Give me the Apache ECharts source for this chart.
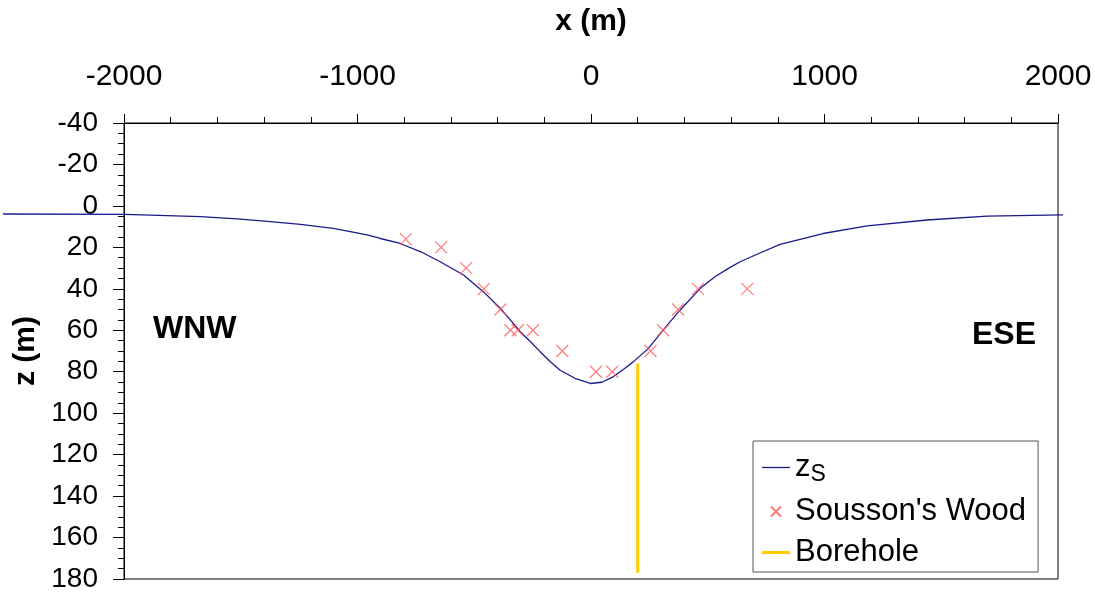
<!DOCTYPE html>
<html>
<head>
<meta charset="utf-8">
<script src="https://cdn.jsdelivr.net/npm/echarts@6/dist/echarts.min.js"></script>
<style>html,body{margin:0;padding:0;background:#fff}#c{width:1095px;height:593px}</style>
</head>
<body>
<div id="c"></div>
<script>
// Surface profile z_s
const curveX = [-2520,-2000,-1816,-1675,-1516,-1375,-1246,-1105,-1032,-960,-904,-818,-730,-647,-547,-461,-390,-347,-304,-260,-218,-175,-133,-70,-4,45,94,140,180,245,308,381,467,530,595,638,720,809,993,1182,1439,1696,2021];
const curveZ = [3.8,4.0,4.6,5.1,6.2,7.5,8.8,10.7,12.3,13.9,15.6,18.0,22.0,26.8,33.2,41.3,49.2,54.8,60.5,65.3,70.2,74.9,79.0,82.9,85.4,84.8,82.2,78.4,75.0,68.5,59.7,50.0,39.6,34.0,29.5,26.8,22.7,18.4,13.2,9.5,6.7,4.8,4.2];
// Sousson's Wood observations
const woodX = [-793,-642,-535,-459,-388,-345,-313,-249,-123,21,91,255,309,373,458,669];
const woodZ = [16,20,30,40,50,60,60,60,70,80,80,70,60,50,40,40];
// Borehole
const boreX = [200,200];
const boreZ = [76,177];

const FONT = 'Liberation Sans, Arial, sans-serif';
const zip = (a,b) => a.map((v,i)=>[v,b[i]]);
const chart = echarts.init(document.getElementById('c'), null, {renderer:'canvas'});
const crossPath = 'path://M0,0L10,10M10,0L0,10';
chart.setOption({
  animation:false,
  backgroundColor:'#fff',
  textStyle:{fontFamily:FONT},
  grid:[
    {left:124,right:37,top:123,bottom:13,show:true,borderColor:'#000',borderWidth:1,backgroundColor:'transparent'},
    {left:3,right:32,top:123,bottom:13,show:false}
  ],
  xAxis:[{
    type:'value',position:'top',min:-2000,max:2000,interval:1000,gridIndex:0,
    name:'x (m)',nameLocation:'middle',nameGap:86,
    nameTextStyle:{fontFamily:FONT,fontSize:30,fontWeight:'bold',color:'#000'},
    axisLine:{show:true,onZero:false,lineStyle:{color:'#000',width:1}},
    axisTick:{show:true,inside:false,length:9,lineStyle:{color:'#000'}},
    minorTick:{show:true,splitNumber:5,length:6,lineStyle:{color:'#000'}},
    axisLabel:{fontFamily:FONT,fontSize:30,color:'#000',margin:31,formatter:function(v){return String(v);}},
    splitLine:{show:false}
  },{
    type:'value',gridIndex:1,min:-2520,max:2021,show:false,splitLine:{show:false}
  }],
  yAxis:[{
    type:'value',inverse:true,min:-40,max:180,interval:20,gridIndex:0,
    name:'z (m)',nameLocation:'middle',nameGap:82,nameRotate:90,
    nameTextStyle:{fontFamily:FONT,fontSize:30,fontWeight:'bold',color:'#000'},
    axisLine:{show:true,onZero:false,lineStyle:{color:'#000',width:1}},
    axisTick:{show:true,inside:false,length:11,lineStyle:{color:'#000'}},
    minorTick:{show:true,splitNumber:4,length:6,lineStyle:{color:'#000'}},
    axisLabel:{fontFamily:FONT,fontSize:28,color:'#000',margin:26,formatter:function(v){return String(v);}},
    splitLine:{show:false}
  },{
    type:'value',gridIndex:1,inverse:true,min:-40,max:180,show:false,splitLine:{show:false}
  }],
  legend:{
    orient:'vertical',left:753,top:441,
    padding:[8,12,4,9],itemGap:10,itemWidth:28,itemHeight:10,
    borderColor:'#555',borderWidth:1,backgroundColor:'#fff',
    textStyle:{fontFamily:FONT,fontSize:31,color:'#000',lineHeight:30,
      rich:{a:{fontFamily:FONT,fontSize:31,color:'#000',lineHeight:30},
            b:{fontFamily:FONT,fontSize:23,color:'#000',lineHeight:30,padding:[14,0,0,0]}}},
    formatter:function(n){return n==='zs' ? '{a|z}{b|S}' : n;},
    data:[
      {name:'zs',icon:'path://M0,0L28,0L28,1.3L0,1.3Z'},
      {name:"Sousson's Wood"},
      {name:'Borehole',icon:'path://M0,0L28,0L28,3L0,3Z'}
    ]
  },
  graphic:[
    {type:'text',left:153,top:313,style:{text:'WNW',font:'bold 32px '+FONT,fill:'#000'}},
    {type:'text',left:972,top:319,style:{text:'ESE',font:'bold 32px '+FONT,fill:'#000'}}
  ],
  series:[
    {name:'zs',type:'line',xAxisIndex:1,yAxisIndex:1,data:zip(curveX,curveZ),symbol:'none',clip:false,
     lineStyle:{color:'#1a1a8c',width:1.3},itemStyle:{color:'#1a1a8c'},z:3},
    {name:"Sousson's Wood",type:'scatter',data:zip(woodX,woodZ),symbol:crossPath,symbolSize:12,
     itemStyle:{color:'none',borderColor:'#ff5a5a',borderWidth:1.2},z:4},
    {name:'Borehole',type:'line',data:zip(boreX,boreZ),symbol:'none',
     lineStyle:{color:'#ffcc00',width:3},itemStyle:{color:'#ffcc00'},z:2}
  ]
});
</script>
</body>
</html>
